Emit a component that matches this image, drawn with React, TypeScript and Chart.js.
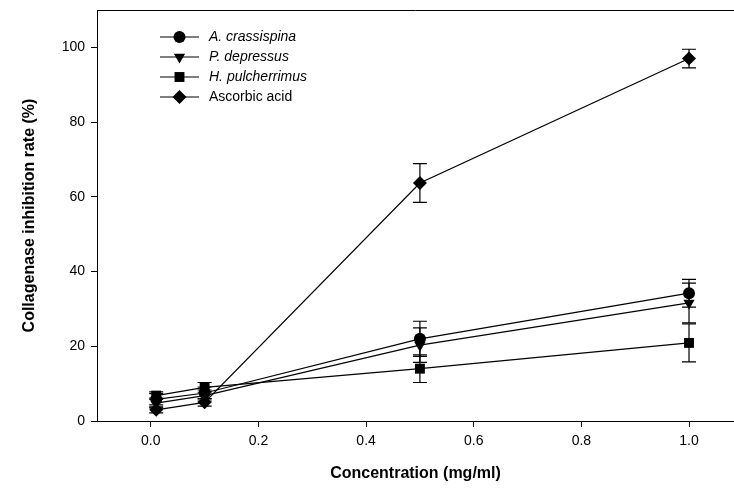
import React, { useEffect, useRef } from "react";
import { Chart, registerables } from "chart.js";
import { drawPoint } from "chart.js/helpers";

Chart.register(...registerables);

const concentrations = [0.01, 0.1, 0.5, 1.0];
const seriesNames = ["A. crassispina", "P. depressus", "H. pulcherrimus", "Ascorbic acid"];
const italicNames = [true, true, true, false];
const crassispina = [5.8, 7.5, 22.0, 34.2];
const crassispinaErr = [1.5, 1.6, 4.7, 3.7];
const depressus = [4.8, 6.8, 20.3, 31.6];
const depressusErr = [1.3, 1.5, 4.6, 5.3];
const pulcherrimus = [6.8, 9.0, 14.0, 20.9];
const pulcherrimusErr = [1.0, 1.3, 3.7, 5.1];
const ascorbic = [3.0, 5.0, 63.7, 97.0];
const ascorbicErr = [0.8, 1.0, 5.2, 2.5];
const xTicks = [0, 0.2, 0.4, 0.6, 0.8, 1.0];
const yTicks = [0, 20, 40, 60, 80, 100];

const FONT = "'Liberation Sans', Arial, sans-serif";

export default function App() {
  const ref = useRef<HTMLCanvasElement | null>(null);
  useEffect(() => {
    if (!ref.current) return;
    const values = [crassispina, depressus, pulcherrimus, ascorbic];
    const errs = [crassispinaErr, depressusErr, pulcherrimusErr, ascorbicErr];
    const styles: any[] = ["circle", "triangle", "rect", "rectRot"];
    const radii = [6, 6.5, 7, 7];
    const rotations = [0, 180, 0, 0];

    const datasets = values.map((vals, i) => ({
      label: seriesNames[i],
      data: concentrations.map((c, j) => ({ x: c, y: vals[j] })),
      borderColor: "#000",
      backgroundColor: "#000",
      borderWidth: 1.2,
      pointStyle: styles[i],
      pointRadius: radii[i],
      pointRotation: rotations[i],
      pointBorderWidth: 0,
      tension: 0,
    }));

    const errorBars = {
      id: "errorBars",
      beforeDatasetsDraw(chart: any) {
        const ctx = chart.ctx;
        const xs = chart.scales.x;
        const ys = chart.scales.y;
        ctx.save();
        ctx.strokeStyle = "#000";
        ctx.lineWidth = 1.2;
        errs.forEach((e, i) => {
          concentrations.forEach((c, j) => {
            const px = xs.getPixelForValue(c);
            const top = ys.getPixelForValue(values[i][j] + e[j]);
            const bot = ys.getPixelForValue(values[i][j] - e[j]);
            ctx.beginPath();
            ctx.moveTo(px, top);
            ctx.lineTo(px, bot);
            ctx.moveTo(px - 7, top);
            ctx.lineTo(px + 7, top);
            ctx.moveTo(px - 7, bot);
            ctx.lineTo(px + 7, bot);
            ctx.stroke();
          });
        });
        ctx.restore();
      },
    };

    const frameAndLegend = {
      id: "frameAndLegend",
      afterDraw(chart: any) {
        const ctx = chart.ctx;
        const a = chart.chartArea;
        ctx.save();
        ctx.strokeStyle = "#000";
        ctx.lineWidth = 1;
        ctx.beginPath();
        ctx.moveTo(a.left, a.top + 0.5);
        ctx.lineTo(a.right, a.top + 0.5);
        ctx.stroke();

        const x0 = 160;
        const x1 = 199;
        const tx = 209;
        seriesNames.forEach((name, i) => {
          const y = 37 + i * 20;
          ctx.strokeStyle = "#000";
          ctx.lineWidth = 1.2;
          ctx.beginPath();
          ctx.moveTo(x0, y);
          ctx.lineTo(x1, y);
          ctx.stroke();
          ctx.fillStyle = "#000";
          drawPoint(ctx, { pointStyle: styles[i], radius: radii[i], rotation: rotations[i], borderWidth: 0 }, (x0 + x1) / 2, y);
          ctx.fillStyle = "#000";
          ctx.font = (italicNames[i] ? "italic " : "") + "14px " + FONT;
          ctx.textBaseline = "middle";
          ctx.textAlign = "left";
          ctx.fillText(name, tx, y);
        });
        ctx.restore();
      },
    };

    const chart = new Chart(ref.current, {
      type: "line",
      data: { datasets },
      options: {
        animation: false,
        responsive: false,
        maintainAspectRatio: false,
        layout: { autoPadding: false, padding: { top: 10, right: 0, left: 0, bottom: 0 } },
        plugins: { legend: { display: false }, tooltip: { enabled: false } },
        scales: {
          x: {
            type: "linear",
            min: -0.1,
            max: 1.0836,
            afterBuildTicks: (s: any) => {
              s.ticks = xTicks.map((v) => ({ value: v }));
            },
            afterFit: (s: any) => {
              s.height = 72;
              s.paddingLeft = 0;
              s.paddingRight = 0;
            },
            ticks: {
              color: "#000",
              font: { family: FONT, size: 14 },
              padding: 6,
              callback: (v: any) => Number(v).toFixed(1),
            },
            grid: { drawOnChartArea: false, drawTicks: true, tickLength: 6, color: "#000" },
            border: { display: true, color: "#000", width: 1 },
            title: {
              display: true,
              text: "Concentration (mg/ml)",
              color: "#000",
              font: { family: FONT, size: 16, weight: "bold" },
              padding: { top: 0, bottom: 10 },
            },
          },
          y: {
            type: "linear",
            min: 0,
            max: 110,
            afterBuildTicks: (s: any) => {
              s.ticks = yTicks.map((v) => ({ value: v }));
            },
            afterFit: (s: any) => {
              s.width = 97;
              s.paddingTop = 0;
              s.paddingBottom = 0;
            },
            ticks: {
              color: "#000",
              font: { family: FONT, size: 14 },
              padding: 6,
            },
            grid: { drawOnChartArea: false, drawTicks: true, tickLength: 6, color: "#000" },
            border: { display: true, color: "#000", width: 1 },
            title: {
              display: true,
              text: "Collagenase inhibition rate (%)",
              color: "#000",
              font: { family: FONT, size: 16, weight: "bold" },
              padding: { top: 20, bottom: 0 },
            },
          },
        },
      },
      plugins: [errorBars, frameAndLegend],
    });
    return () => chart.destroy();
  }, []);

  return (
    <div style={{ position: "absolute", left: 0, top: 0, width: 734, height: 493, background: "#fff" }}>
      <canvas ref={ref} width={734} height={493} style={{ display: "block" }} />
    </div>
  );
}
